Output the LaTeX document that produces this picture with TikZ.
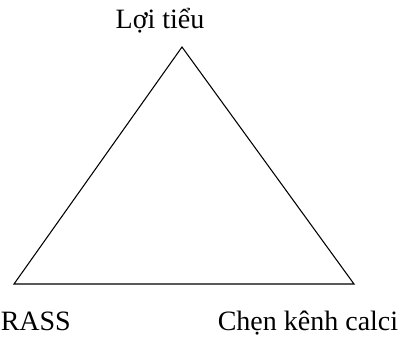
\documentclass[tikz,border=0pt]{standalone}
\usepackage{fontspec}
\setmainfont{Liberation Serif}
\usetikzlibrary{
    positioning
}

\begin{document}
\begin{tikzpicture}
[
    x=0.75pt,
    y=-0.75pt,
    font=\fontsize{21}{24}\selectfont,
    label/.style={
        inner sep=0pt,
        anchor=base
    },
    side/.style={
        line width=0.8pt,
        line join=miter
    }
]

\useasboundingbox (0,0) rectangle (405,337);

% =====================
% CORNERS
% =====================

\coordinate (top) at (182,47);
\coordinate (left) at (14,284);
\coordinate (right) at (354,284);

% =====================
% LABELS
% =====================

\node[label] (diuretic) at (160,28) {Lợi tiểu};

\node[label, anchor=base west] (rass) at (0.5,330) {RASS};

\node[label] (calcium) at (308,330) {Chẹn kênh calci};

% =====================
% TRIANGLE
% =====================

\draw[side]
(top)
--
(left)
--
(right)
--
cycle;

\end{tikzpicture}
\end{document}
